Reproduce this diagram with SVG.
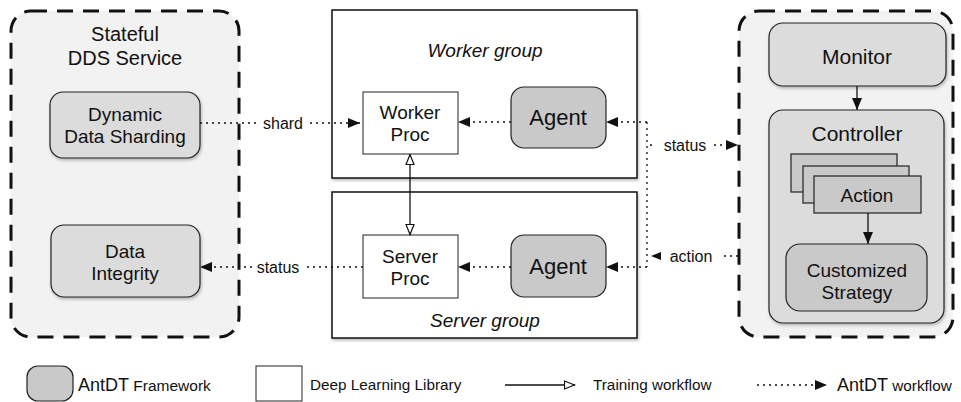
<svg xmlns="http://www.w3.org/2000/svg" width="961" height="402" viewBox="0 0 961 402">
<style>
text{font-family:"Liberation Sans",Arial,sans-serif;fill:#111;text-anchor:middle;dominant-baseline:central}
.dash{fill:#f2f2f2;stroke:#111;stroke-width:3;stroke-dasharray:16,10}
.grp{fill:#fff;stroke:#111;stroke-width:1.5}
.lib{fill:#fff;stroke:#222;stroke-width:1}
.fw{fill:#dcdcdc;stroke:#222;stroke-width:1.2}
.fw2{fill:#c9c9c9;stroke:#222;stroke-width:1.2}
.dot{fill:none;stroke:#111;stroke-width:1.3;stroke-dasharray:2,4}
.sol{fill:none;stroke:#111;stroke-width:1.3}
.t19{font-size:19px}
.t20{font-size:20px}
.t21{font-size:21px}
.t16{font-size:16px}
.t22{font-size:22px}
.it{font-style:italic}
.st{text-anchor:start}
</style>
<defs>
<marker id="fa" viewBox="0 0 12 10" refX="12" refY="5" markerWidth="12" markerHeight="10" markerUnits="userSpaceOnUse" orient="auto"><path d="M0,0 L12,5 L0,10 Z" fill="#111"/></marker>
<marker id="oa" viewBox="0 0 12 10" refX="11.5" refY="5" markerWidth="12" markerHeight="10" markerUnits="userSpaceOnUse" orient="auto"><path d="M1,1 L11,5 L1,9 Z" fill="#fff" stroke="#111" stroke-width="1.2"/></marker>
<filter id="sh" x="-10%" y="-10%" width="130%" height="130%"><feDropShadow dx="1" dy="2" stdDeviation="1.5" flood-color="#000" flood-opacity="0.25"/></filter>
</defs>

<g id="dds-service">
<rect class="dash" x="11" y="11" width="228" height="326" rx="20"/>
<text class="t20" x="125" y="34">Stateful</text>
<text class="t20" x="125" y="58">DDS Service</text>
</g>
<g id="dynamic-data-sharding">
<rect class="fw" x="50" y="92" width="150" height="66" rx="13" filter="url(#sh)"/>
<text class="t19" x="125" y="114">Dynamic</text>
<text class="t19" x="125" y="136">Data Sharding</text>
</g>
<g id="data-integrity">
<rect class="fw" x="51" y="225" width="149" height="72" rx="13" filter="url(#sh)"/>
<text class="t19" x="125" y="251">Data</text>
<text class="t19" x="125" y="273">Integrity</text>
</g>

<g id="worker-group">
<rect class="grp" x="332" y="10" width="305" height="168" filter="url(#sh)"/>
<text class="t19 it" x="485" y="50">Worker group</text>
</g>
<g id="worker-proc">
<rect class="lib" x="363" y="92" width="95" height="62"/>
<text class="t19" x="410" y="112">Worker</text>
<text class="t19" x="410" y="134">Proc</text>
</g>
<g id="worker-agent">
<rect class="fw2" x="511" y="87" width="95" height="61" rx="13"/>
<text class="t22" x="558" y="117">Agent</text>
</g>

<g id="server-group">
<rect class="grp" x="332" y="192" width="305" height="146" filter="url(#sh)"/>
<text class="t19 it" x="485" y="320">Server group</text>
</g>
<g id="server-proc">
<rect class="lib" x="363" y="235" width="95" height="63"/>
<text class="t19" x="410" y="256">Server</text>
<text class="t19" x="410" y="278">Proc</text>
</g>
<g id="server-agent">
<rect class="fw2" x="511" y="235" width="95" height="62" rx="13"/>
<text class="t22" x="558" y="266">Agent</text>
</g>

<g id="controller-service">
<rect class="dash" x="739" y="11" width="214" height="326" rx="20"/>
</g>
<g id="monitor">
<rect class="fw" x="769" y="23" width="177" height="63" rx="14" filter="url(#sh)"/>
<text class="t21" x="857" y="56">Monitor</text>
</g>
<g id="controller">
<rect class="fw" x="769" y="110" width="175" height="213" rx="14" filter="url(#sh)"/>
<text class="t21" x="857" y="133">Controller</text>
</g>
<g id="action">
<rect class="fw2" x="791" y="154" width="106" height="38"/>
<rect class="fw2" x="803" y="166" width="106" height="37"/>
<rect class="fw2" x="814" y="176" width="107" height="37"/>
<text class="t19" x="867" y="195">Action</text>
</g>
<g id="customized-strategy">
<rect class="fw2" x="786" y="244" width="141" height="67" rx="14"/>
<text class="t19" x="857" y="270">Customized</text>
<text class="t19" x="857" y="292">Strategy</text>
</g>

<g id="connectors">
<path class="dot" d="M200,123 H257"/>
<path class="dot" d="M310,123 H360" marker-end="url(#fa)"/>
<text class="t16" x="283" y="123">shard</text>
<path class="dot" d="M511,122 H458" marker-end="url(#fa)"/>
<path class="dot" d="M647,122 H606" marker-end="url(#fa)"/>
<path class="dot" d="M647,122 V267"/>
<path class="dot" d="M647,267 H606" marker-end="url(#fa)"/>
<path class="dot" d="M511,267 H458" marker-end="url(#fa)"/>
<path class="dot" d="M363,267 H304"/>
<path class="dot" d="M252,267 H200" marker-end="url(#fa)"/>
<text class="t16" x="278" y="267">status</text>
<path class="dot" d="M650,145 H656"/>
<path class="dot" d="M714,145 H738" marker-end="url(#fa)"/>
<text class="t16" x="685" y="145">status</text>
<path class="dot" d="M738,256 H720"/>
<path d="M651,256 L661,252 L661,260 Z" fill="#111"/>
<text class="t16" x="691" y="256">action</text>
<path class="sol" d="M410,195 V154" marker-end="url(#oa)"/>
<path class="sol" d="M410,195 V235" marker-end="url(#oa)"/>
<path class="sol" d="M857,86 V110" marker-end="url(#fa)"/>
<path class="sol" d="M868,213 V244" marker-end="url(#fa)"/>
</g>

<g id="legend">
<rect class="fw2" x="27" y="366" width="46" height="35" rx="11"/>
<text x="78" y="385" class="st"><tspan font-size="18">AntDT</tspan><tspan font-size="15.5"> Framework</tspan></text>
<rect class="lib" x="256" y="366" width="46" height="35"/>
<text x="310" y="384" font-size="15.3" class="st">Deep Learning Library</text>
<path class="sol" d="M505,385 H575" marker-end="url(#oa)"/>
<text x="593" y="384" font-size="15.3" class="st">Training workflow</text>
<path class="dot" d="M757,385 H827" marker-end="url(#fa)"/>
<text x="837" y="385" class="st"><tspan font-size="18">AntDT</tspan><tspan font-size="15.3"> workflow</tspan></text>
</g>
</svg>
